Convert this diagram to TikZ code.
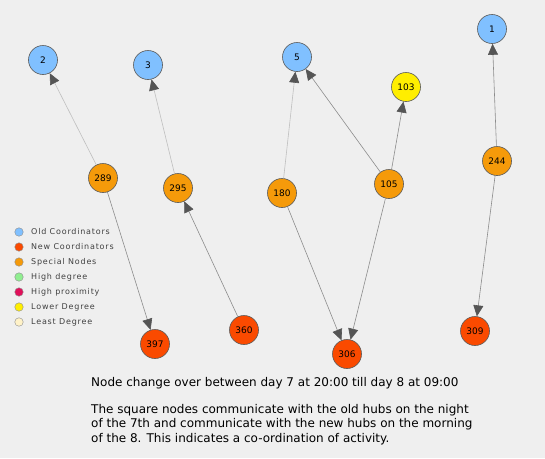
\documentclass[tikz,border=0pt]{standalone}
\usepackage{fontspec}
\setmainfont{DejaVu Sans}
\newfontfamily\legfont[LetterSpace=10]{DejaVu Sans}
\usetikzlibrary{arrows.meta}
\definecolor{bg}{HTML}{EFEFEF}
\definecolor{oldc}{HTML}{80C0FF}
\definecolor{newc}{HTML}{FA4A00}
\definecolor{spec}{HTML}{F59A0A}
\definecolor{hideg}{HTML}{90EE90}
\definecolor{hiprox}{HTML}{E0105A}
\definecolor{lowdeg}{HTML}{FFEE00}
\definecolor{leastdeg}{HTML}{FFF2C8}
\definecolor{tipc}{HTML}{555555}
\tikzset{
  nd/.style={circle, draw=black!65, line width=0.6pt, minimum size=29pt, inner sep=0pt, font=\fontsize{9}{9}\selectfont},
  oldn/.style={nd, fill=oldc},
  newn/.style={nd, fill=newc},
  specn/.style={nd, fill=spec},
  lown/.style={nd, fill=lowdeg},
  lite/.style={draw=black!25, line width=0.6pt, -{Triangle[length=11pt,width=10pt,color=tipc]}},
  dark/.style={draw=black!45, line width=0.6pt, -{Triangle[length=11pt,width=10pt,color=tipc]}},
  legdot/.style={circle, draw=black!45, line width=0.4pt, minimum size=8.5pt, inner sep=0pt},
  legtxt/.style={anchor=west, text=black!75, font=\legfont\fontsize{8}{9}\selectfont, inner sep=0pt},
  captxt/.style={anchor=west, inner sep=0pt, font=\fontsize{12}{14.5}\selectfont, align=left}
}
\begin{document}
\begin{tikzpicture}[x=1pt,y=-1pt]
\fill[bg] (0,0) rectangle (545,458);
\useasboundingbox (0,0) rectangle (545,458);
% nodes
\node[oldn] (n2) at (43,60) {2};
\node[oldn] (n3) at (148,65) {3};
\node[oldn] (n5) at (297,57) {5};
\node[oldn] (n1) at (492,29) {1};
\node[lown] (n103) at (406,87) {103};
\node[specn] (n289) at (103,178) {289};
\node[specn] (n295) at (178,188) {295};
\node[specn] (n180) at (282,193) {180};
\node[specn] (n105) at (389,184) {105};
\node[specn] (n244) at (497,161) {244};
\node[newn] (n397) at (155,344) {397};
\node[newn] (n360) at (244,330) {360};
\node[newn] (n306) at (347,354) {306};
\node[newn] (n309) at (475,331) {309};
% edges
\draw[lite] (n289) -- (n2);
\draw[dark] (n289) -- (n397);
\draw[lite] (n295) -- (n3);
\draw[dark] (n360) -- (n295);
\draw[lite] (n180) -- (n5);
\draw[dark] (n180) -- (n306);
\draw[dark] (n105) -- (n5);
\draw[dark] (n105) -- (n103);
\draw[dark] (n105) -- (n306);
\draw[dark] (n244) -- (n1);
\draw[dark] (n244) -- (n309);
% legend
\node[legdot, fill=oldc] (l1) at (19,232) {};
\node[legdot, fill=newc] (l2) at (19,247) {};
\node[legdot, fill=spec] (l3) at (19,262) {};
\node[legdot, fill=hideg] (l4) at (19,277) {};
\node[legdot, fill=hiprox] (l5) at (19,292) {};
\node[legdot, fill=lowdeg] (l6) at (19,307) {};
\node[legdot, fill=leastdeg] (l7) at (19,322) {};
\node[legtxt] (t1) at (31,232) {Old Coordinators};
\node[legtxt] (t2) at (31,247) {New Coordinators};
\node[legtxt] (t3) at (31,262) {Special Nodes};
\node[legtxt] (t4) at (31,277) {High degree};
\node[legtxt] (t5) at (31,292) {High proximity};
\node[legtxt] (t6) at (31,307) {Lower Degree};
\node[legtxt] (t7) at (31,322) {Least Degree};
% caption
\node[captxt] (c1) at (91,383) {Node change over between day 7 at 20:00 till day 8 at 09:00};
\node[captxt, anchor=north west] (c2) at (91,404) {The square nodes communicate with the old hubs on the night\\of the 7th and communicate with the new hubs on the morning\\of the 8. This indicates a co-ordination of activity.};
\end{tikzpicture}
\end{document}
